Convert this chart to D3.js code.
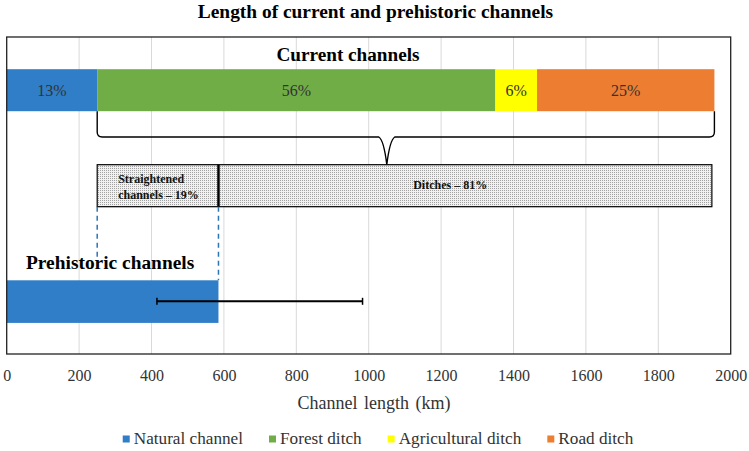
<!DOCTYPE html>
<html><head><meta charset="utf-8">
<script src="https://cdn.jsdelivr.net/npm/d3@7"></script>
<style>
body{margin:0;background:#fff;}
svg text{font-family:"Liberation Serif","Times New Roman",Tinos,Times,"DejaVu Serif","Noto Serif",serif;}
</style></head>
<body><svg id="c" width="749" height="451"></svg>
<script>
// ---- data ----
const categories = ["Natural channel","Forest ditch","Agricultural ditch","Road ditch"];
const currentValues = [250, 1100, 115, 490];          // km
const currentLabels = ["13%","56%","6%","25%"];
const colors = ["#2F7EC7","#70AD47","#FFFF00","#ED7D31"];
const breakdownNames = ["Straightened channels – 19%","Ditches – 81%"];
const breakdownBounds = [250, 585, 1948];              // km
const prehistoricValue = 585;
const prehistoricError = [415, 983];
const braceTip = 1050;
const xTicks = [0,200,400,600,800,1000,1200,1400,1600,1800,2000];
const rows = ["current","breakdown","prehistoric"];

const svg = d3.select("#c");
const x = d3.scaleLinear().domain([0,2000]).range([6.7,730.7]);
const yC = d3.scaleOrdinal().domain(rows).range([90.2,185.7,301.3]);
const bh = 42;
const frameTop = 37, frameBottom = 354;

// pattern
const defs = svg.append("defs");
const pat = defs.append("pattern").attr("id","dots").attr("width",2).attr("height",2).attr("patternUnits","userSpaceOnUse");
pat.append("rect").attr("width",2).attr("height",2).attr("fill","#f1f1f1");
pat.append("rect").attr("width",1).attr("height",1).attr("fill","#a2a2a2");

// title
svg.append("text").attr("x",375.5).attr("y",18).attr("text-anchor","middle")
  .attr("font-size",19.4).attr("font-weight","bold").text("Length of current and prehistoric channels");

// gridlines
svg.append("g").selectAll("line").data(xTicks.slice(1,-1)).join("line")
  .attr("x1",d=>x(d)).attr("x2",d=>x(d)).attr("y1",frameTop).attr("y2",frameBottom)
  .attr("stroke","#d9d9d9").attr("stroke-width",1);

// current stacked bar
let cum = 0;
const segs = currentValues.map((v,i)=>{const s={i,x0:cum,x1:cum+v}; cum+=v; return s;});
const total = cum;
svg.append("g").selectAll("rect").data(segs).join("rect")
  .attr("x",d=>x(d.x0)).attr("width",d=>x(d.x1)-x(d.x0))
  .attr("y",yC("current")-bh/2).attr("height",bh).attr("fill",d=>colors[d.i]);
svg.append("g").selectAll("text").data(segs).join("text")
  .attr("x",d=>(x(d.x0)+x(d.x1))/2).attr("y",yC("current")+6)
  .attr("text-anchor","middle").attr("font-size",16).attr("fill","#333")
  .text(d=>currentLabels[d.i]);
svg.append("text").attr("x",348).attr("y",61).attr("text-anchor","middle")
  .attr("font-size",19.2).attr("font-weight","bold").text("Current channels");

// brace
const L = x(currentValues[0]), R = x(total), yTop = yC("current")+bh/2, yH = 137, r = 5;
const xv = x(braceTip), apex = yC("breakdown")-bh/2;
const p = d3.path();
p.moveTo(L,yTop); p.lineTo(L,yH-r); p.quadraticCurveTo(L,yH,L+r,yH);
p.lineTo(xv-8,yH); p.quadraticCurveTo(xv-3,yH+3,xv,apex);
p.quadraticCurveTo(xv+3,yH+3,xv+8,yH);
p.lineTo(R-r,yH); p.quadraticCurveTo(R,yH,R,yH-r); p.lineTo(R,yTop);
svg.append("path").attr("d",p.toString()).attr("fill","none").attr("stroke","#000").attr("stroke-width",1.4);

// breakdown bar
const by = yC("breakdown")-bh/2;
svg.append("rect").attr("x",x(breakdownBounds[0])).attr("width",x(breakdownBounds[2])-x(breakdownBounds[0]))
  .attr("y",by).attr("height",bh).attr("fill","url(#dots)").attr("stroke","#000").attr("stroke-width",1.2);
svg.append("line").attr("x1",x(breakdownBounds[1])).attr("x2",x(breakdownBounds[1]))
  .attr("y1",by).attr("y2",by+bh).attr("stroke","#000").attr("stroke-width",2.5);
const t1 = svg.append("text").attr("font-size",12).attr("font-weight","bold").attr("fill","#111");
const parts = breakdownNames[0].split(" ");
t1.append("tspan").attr("x",x(breakdownBounds[0])+21).attr("y",183.3).text(parts[0]);
t1.append("tspan").attr("x",x(breakdownBounds[0])+21).attr("y",199).text(parts.slice(1).join(" "));
svg.append("text").attr("x",(x(breakdownBounds[1])+x(breakdownBounds[2]))/2-15).attr("y",188.5)
  .attr("text-anchor","middle").attr("font-size",12).attr("font-weight","bold").attr("fill","#111")
  .text(breakdownNames[1]);

// dashed connectors
svg.append("line").attr("x1",x(breakdownBounds[0])).attr("x2",x(breakdownBounds[0]))
  .attr("y1",by+bh).attr("y2",257).attr("stroke","#2E75B6").attr("stroke-width",1.5).attr("stroke-dasharray","5,4");
svg.append("line").attr("x1",x(breakdownBounds[1])).attr("x2",x(breakdownBounds[1]))
  .attr("y1",by+bh).attr("y2",yC("prehistoric")-bh/2).attr("stroke","#2E75B6").attr("stroke-width",1.5).attr("stroke-dasharray","5,4");

// prehistoric bar
const py = yC("prehistoric");
svg.append("rect").attr("x",x(0)).attr("width",x(prehistoricValue)-x(0))
  .attr("y",py-bh/2).attr("height",bh+0.6).attr("fill",colors[0]);
svg.append("text").attr("x",26).attr("y",269).attr("font-size",19.4).attr("font-weight","bold").text("Prehistoric channels");
// error bar
svg.append("line").attr("x1",x(prehistoricError[0])).attr("x2",x(prehistoricError[1]))
  .attr("y1",py).attr("y2",py).attr("stroke","#000").attr("stroke-width",2);
svg.append("g").selectAll("line").data(prehistoricError).join("line")
  .attr("x1",d=>x(d)).attr("x2",d=>x(d)).attr("y1",py-3.5).attr("y2",py+3.5)
  .attr("stroke","#000").attr("stroke-width",1.5);

// frame
svg.append("rect").attr("x",x(0)).attr("y",frameTop).attr("width",x(2000)-x(0)).attr("height",frameBottom-frameTop)
  .attr("fill","none").attr("stroke","#222").attr("stroke-width",1.3);

// axis
const ax = svg.append("g").attr("transform",`translate(0,${frameBottom})`)
  .call(d3.axisBottom(x).tickValues(xTicks).tickSize(0).tickPadding(0).tickFormat(d3.format("d")));
ax.select(".domain").remove();
ax.attr("font-family",null);
ax.selectAll("text").attr("font-size",16).attr("fill","#333").attr("dy",null).attr("y",26.7);

svg.append("text").attr("x",374).attr("y",409).attr("text-anchor","middle").attr("font-size",18)
  .attr("fill","#333").attr("word-spacing",2).text("Channel length (km)");

// legend
const lg = svg.append("g");
const items = lg.selectAll("g").data(categories).join("g");
items.append("rect").attr("width",7).attr("height",7).attr("y",435.5).attr("fill",(d,i)=>colors[i]);
items.append("text").attr("x",11).attr("y",444).attr("font-size",17.2).attr("fill","#333").text(d=>d);
const gap = 26;
const widths = [];
items.each(function(){widths.push(11+d3.select(this).select("text").node().getComputedTextLength());});
const tot = d3.sum(widths)+gap*(widths.length-1);
let start = 378 - tot/2;
items.attr("transform",(d,i)=>{const t=`translate(${start},0)`; start+=widths[i]+gap; return t;});
</script></body></html>
